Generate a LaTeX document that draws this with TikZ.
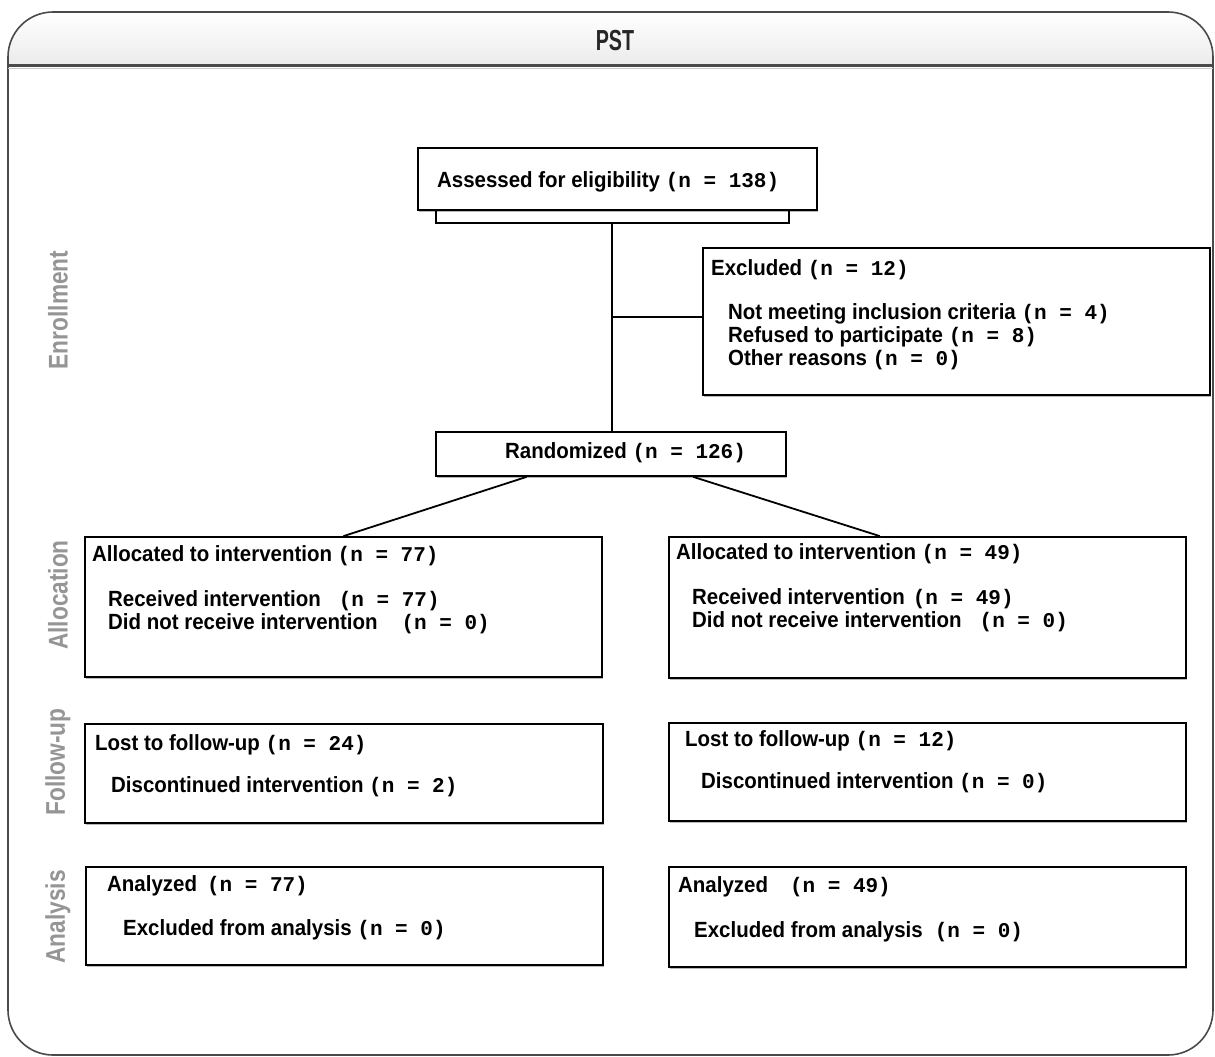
\documentclass[tikz,border=0pt]{standalone}
\usepackage{fontspec}
\setmainfont{Liberation Sans}
\newfontfamily\mn{Liberation Mono Bold}
\newfontfamily\bodyfont[FakeStretch=0.93]{Liberation Sans Bold}
\newfontfamily\narrow[FakeStretch=0.68]{Liberation Sans Bold}
\newfontfamily\labfont[FakeStretch=0.84]{Liberation Sans Bold}
\usetikzlibrary{calc,shadows}
\definecolor{frame}{HTML}{4A4A4A}
\definecolor{labgray}{HTML}{959595}
\tikzset{
  box/.style={draw=black, line width=1.8pt, fill=white, inner sep=0pt,
    drop shadow={shadow xshift=0.8pt, shadow yshift=-1.6pt, fill=gray!70, opacity=0.8}},
  txt/.style={anchor=west, inner sep=0pt, font=\bodyfont\fontsize{22}{26}\selectfont},
  sidelab/.style={rotate=90, inner sep=0pt, text=labgray, font=\labfont\fontsize{27}{30}\selectfont},
  conn/.style={draw=black, line width=1.8pt},
}
\newcommand{\nn}[1]{{\mn\fontsize{21}{24}\selectfont (n = #1)}}
\begin{document}
\begin{tikzpicture}[x=1pt,y=-1pt]
\useasboundingbox (0,0) rectangle (1215,1057);
\fill[white] (0,0) rectangle (1215,1057);
% header band
\path[top color=white, bottom color=gray!16] (8,66) [rounded corners=45] -- (8,12) -- (1213,12) [sharp corners] -- (1213,66) -- cycle;
% outer frame
\draw[frame, line width=1.6pt, rounded corners=45] (8,12) rectangle (1213,1055);
\draw[frame, line width=3pt] (8,66) -- (1213,66);
\draw[gray!40, line width=1pt] (8,69) -- (1213,69);
\node[inner sep=0pt, text=black!85, font=\narrow\fontsize{29}{32}\selectfont] (pst) at (615,41) {PST};

% side labels
\node[sidelab] (labEnr) at (58,310) {Enrollment};
\node[sidelab] (labAll) at (58,595) {Allocation};
\node[sidelab] (labFol) at (58,762) {Follow-up};
\node[sidelab] (labAna) at (58,917) {Analysis};

% boxes
\node[box, minimum width=399pt, minimum height=62pt] (assess) at (617.5,179) {};
\node[box, minimum width=507pt, minimum height=147pt] (excl) at (956.5,321.5) {};
\node[box, minimum width=350pt, minimum height=44pt] (rand) at (611,454) {};
\node[box, minimum width=517pt, minimum height=140pt] (allocL) at (343.5,607) {};
\node[box, minimum width=517pt, minimum height=141pt] (allocR) at (927.5,607.5) {};
\node[box, minimum width=518pt, minimum height=99pt] (follL) at (344,773.5) {};
\node[box, minimum width=517pt, minimum height=98pt] (follR) at (927.5,772) {};
\node[box, minimum width=517pt, minimum height=98pt] (anaL) at (344.5,916) {};
\node[box, minimum width=517pt, minimum height=100pt] (anaR) at (927.5,917) {};

% texts
\node[txt] (tAssess) at (437,182) {Assessed for eligibility \nn{138}};
\node[txt] (tExcl) at (711,270) {Excluded \nn{12}};
\node[txt] (tExcl1) at (728,314) {Not meeting inclusion criteria \nn{4}};
\node[txt] (tExcl2) at (728,337) {Refused to participate \nn{8}};
\node[txt] (tExcl3) at (728,360) {Other reasons \nn{0}};
\node[txt] (tRand) at (505,453) {Randomized \nn{126}};
\node[txt] (tAL) at (92,556) {Allocated to intervention \nn{77}};
\node[txt] (tAL1) at (108,601) {Received intervention\hspace{18pt}\nn{77}};
\node[txt] (tAL2) at (108,624) {Did not receive intervention\hspace{24pt}\nn{0}};
\node[txt] (tAR) at (676,554) {Allocated to intervention \nn{49}};
\node[txt] (tAR1) at (692,599) {Received intervention\hspace{8pt}\nn{49}};
\node[txt] (tAR2) at (692,622) {Did not receive intervention\hspace{18pt}\nn{0}};
\node[txt] (tFL) at (95,745) {Lost to follow-up \nn{24}};
\node[txt] (tFL1) at (111,787) {Discontinued intervention \nn{2}};
\node[txt] (tFR) at (685,741) {Lost to follow-up \nn{12}};
\node[txt] (tFR1) at (701,783) {Discontinued intervention \nn{0}};
\node[txt] (tNL) at (107,886) {Analyzed\hspace{10pt}\nn{77}};
\node[txt] (tNL1) at (123,930) {Excluded from analysis \nn{0}};
\node[txt] (tNR) at (678,887) {Analyzed\hspace{22pt}\nn{49}};
\node[txt] (tNR1) at (694,932) {Excluded from analysis\hspace{12pt}\nn{0}};

% bracket under assessed box
\coordinate (b1) at ($(assess.south west)+(19,0)$);
\coordinate (b2) at ($(assess.south east)+(-29,0)$);
\coordinate (br) at ($(assess.south)+(-5.5,12)$);
\draw[conn, line width=1.6pt] (b1) -- ++(0,12) -| (b2);
% trunk
\draw[conn] (br) -- (br |- rand.north);
\coordinate (jn) at ($(br)+(0,94)$);
\draw[conn] (jn) -- (jn -| excl.west);
% split
\coordinate (r1) at ($(rand.south west)!0.26!(rand.south east)$);
\coordinate (r2) at ($(rand.south west)!0.734!(rand.south east)$);
\coordinate (a2) at ($(allocR.north west)!0.408!(allocR.north east)$);
\draw[conn] (r1) -- (allocL.north);
\draw[conn] (r2) -- (a2);
\end{tikzpicture}
\end{document}
